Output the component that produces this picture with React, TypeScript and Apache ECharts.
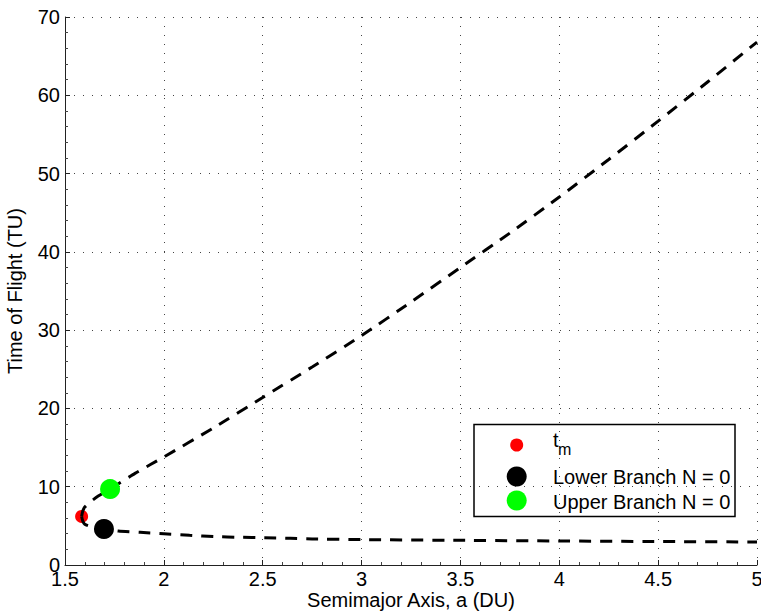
import React, { useEffect, useRef } from "react";
import * as echarts from "echarts";

const upperA = [1.584, 1.59, 1.6, 1.63, 1.668, 1.728, 1.778, 1.854, 1.93, 2.0, 2.25, 2.5, 2.75, 3.0, 3.25, 3.5, 3.75, 4.0, 4.25, 4.5, 4.75, 5.0];
const upperT = [6.2, 6.9, 7.4, 8.1, 8.8, 9.7, 10.5, 11.7, 12.8, 13.8, 17.5, 21.4, 25.3, 29.3, 33.6, 38.0, 42.4, 47.0, 51.8, 56.7, 61.7, 66.8];
const lowerA = [1.584, 1.59, 1.6, 1.63, 1.67, 1.697, 1.77, 1.88, 2.0, 2.13, 2.26, 2.38, 2.51, 2.64, 2.75, 3.0, 3.5, 4.0, 4.5, 5.0];
const lowerT = [6.2, 5.6, 5.2, 4.9, 4.7, 4.6, 4.34, 4.17, 4.0, 3.8, 3.63, 3.54, 3.48, 3.41, 3.33, 3.25, 3.15, 3.07, 3.0, 2.94];

const tmPoint = [1.584, 6.2];
const lowerPoint = [1.697, 4.6];
const upperPoint = [1.728, 9.7];

const xTicks = { min: 1.5, max: 5, interval: 0.5 };
const yTicks = { min: 0, max: 70, interval: 10 };

const FONT = "Liberation Sans, Arial, Helvetica, sans-serif";

export default function App() {
  const ref = useRef<HTMLDivElement>(null);
  useEffect(() => {
    if (!ref.current) return;
    const chart = echarts.init(ref.current, undefined, { renderer: "svg" });
    const dash = { color: "#000", width: 3, type: [12, 9] as number[], cap: "butt" };
    const gridLine = { show: true, lineStyle: { color: "#444", width: 1, type: [1, 8] as number[] } };
    chart.setOption({
      animation: false,
      backgroundColor: "#fff",
      grid: { left: 65, right: 4, top: 17, bottom: 49, containLabel: false, outerBoundsMode: "none" },
      xAxis: {
        type: "value",
        min: xTicks.min,
        max: xTicks.max,
        interval: xTicks.interval,
        name: "Semimajor Axis, a (DU)",
        nameLocation: "middle",
        nameGap: 25,
        nameMoveOverlap: false,
        nameTextStyle: { fontFamily: FONT, fontSize: 20, color: "#000" },
        axisLine: { show: true, onZero: false, lineStyle: { color: "#222", width: 1 } },
        axisTick: { show: true, inside: true, length: 5, lineStyle: { color: "#222" } },
        minorTick: { show: true, splitNumber: 5, length: 3, lineStyle: { color: "#444" } },
        axisLabel: { fontFamily: FONT, fontSize: 20, color: "#000", margin: 4, formatter: (v: number) => String(v) },
        splitLine: gridLine,
      },
      yAxis: {
        type: "value",
        min: yTicks.min,
        max: yTicks.max,
        interval: yTicks.interval,
        name: "Time of Flight (TU)",
        nameLocation: "middle",
        nameGap: 40,
        nameTextStyle: { fontFamily: FONT, fontSize: 20, color: "#000" },
        axisLine: { show: true, lineStyle: { color: "#222", width: 1 } },
        axisTick: { show: true, inside: true, length: 5, lineStyle: { color: "#222" } },
        minorTick: { show: true, splitNumber: 5, length: 3, lineStyle: { color: "#444" } },
        axisLabel: { fontFamily: FONT, fontSize: 20, color: "#000", margin: 5 },
        splitLine: gridLine,
      },
      series: [
        {
          name: "t_m",
          type: "scatter",
          data: [tmPoint],
          symbol: "circle",
          symbolSize: 13,
          itemStyle: { color: "#ff0000", opacity: 1 },
          z: 1,
        },
        {
          name: "upper curve",
          type: "line",
          data: upperA.map((a, i) => [a, upperT[i]]),
          showSymbol: false,
          smooth: 0.2,
          lineStyle: dash,
          z: 2,
        },
        {
          name: "lower curve",
          type: "line",
          data: lowerA.map((a, i) => [a, lowerT[i]]),
          showSymbol: false,
          smooth: 0.2,
          lineStyle: dash,
          z: 2,
        },
        {
          name: "Lower Branch N = 0",
          type: "scatter",
          data: [lowerPoint],
          symbol: "circle",
          symbolSize: 20,
          itemStyle: { color: "#000000", opacity: 1 },
          z: 3,
        },
        {
          name: "Upper Branch N = 0",
          type: "scatter",
          data: [upperPoint],
          symbol: "circle",
          symbolSize: 20,
          itemStyle: { color: "#00ff00", opacity: 1 },
          z: 3,
        },
      ],
      graphic: [
        {
          type: "group",
          z: 100,
          children: [
            { type: "rect", shape: { x: 474, y: 424.5, width: 261, height: 92 }, style: { fill: "#fff", stroke: "#000", lineWidth: 1.5 } },
            { type: "circle", shape: { cx: 516.7, cy: 445, r: 6.5 }, style: { fill: "#ff0000" } },
            { type: "circle", shape: { cx: 516.7, cy: 476.5, r: 10 }, style: { fill: "#000000" } },
            { type: "circle", shape: { cx: 516.7, cy: 500.5, r: 10 }, style: { fill: "#00ff00" } },
            { type: "text", x: 553, y: 439.5, style: { text: "t", font: `20px ${FONT}`, fill: "#000", verticalAlign: "middle" } },
            { type: "text", x: 558, y: 449.5, style: { text: "m", font: `16px ${FONT}`, fill: "#000", verticalAlign: "middle" } },
            { type: "text", x: 553, y: 477, style: { text: "Lower Branch N = 0", font: `20px ${FONT}`, fill: "#000", verticalAlign: "middle" } },
            { type: "text", x: 553, y: 501.5, style: { text: "Upper Branch N = 0", font: `20px ${FONT}`, fill: "#000", verticalAlign: "middle" } },
          ],
        },
      ],
    });
    return () => chart.dispose();
  }, []);
  return <div ref={ref} style={{ width: 761, height: 614, position: "absolute", left: 0, top: 0 }} />;
}
